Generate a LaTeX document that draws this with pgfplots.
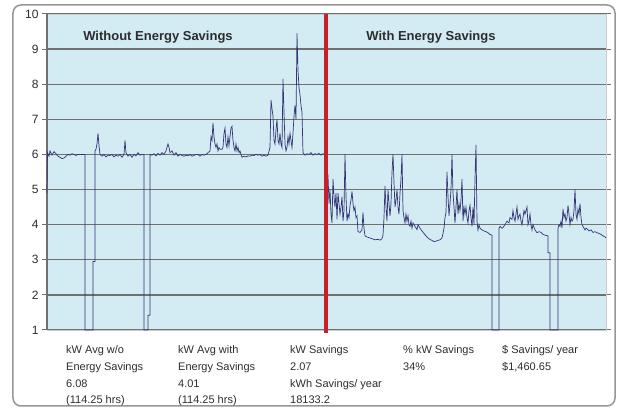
\documentclass[border=0pt]{standalone}
\usepackage{pgfplots}
\pgfplotsset{compat=1.18}
\usepackage{fontspec}
\setmainfont{Liberation Sans}
\definecolor{plotbg}{RGB}{211,235,242}
\definecolor{gridc}{RGB}{112,112,112}
\definecolor{linec}{RGB}{52,52,118}
\definecolor{redc}{RGB}{200,32,40}
\definecolor{txtc}{RGB}{45,45,45}
\definecolor{framec}{RGB}{150,150,150}
\begin{document}
\begin{tikzpicture}
\path[use as bounding box] (-47pt,-79pt) rectangle (572pt,330pt);
\draw[framec, line width=1.5pt, rounded corners=8pt] (-34pt,-76pt) rectangle (568pt,325pt);
\begin{axis}[
  at={(0pt,0pt)}, anchor=south west,
  scale only axis, width=559pt, height=316pt,
  xmin=47, xmax=606, ymin=1, ymax=10,
  xtick=\empty,
  ytick={1,2,...,10},
  ymajorgrids=true,
  grid style={line width=1.3pt, gridc},
  axis background/.style={fill=plotbg},
  axis line style={draw=gray!40},
  tick align=outside,
  major tick length=5pt,
  tick style={gridc, line width=1pt},
  yticklabel style={font=\fontsize{12}{12}\selectfont, text=txtc},
  /pgf/number format/assume math mode=true,
  clip=false,
]
\draw[gridc, line width=1.3pt] (axis cs:47,1) -- (axis cs:47,10);
\addplot[linec, line width=0.7pt] coordinates {
(47,4.9) (47.5,6.05) (49,5.95) (50,6.1) (52,5.98) (54,6.08) (56,6.02) (58,5.95) (60,5.92) (62,5.88) (64,5.9) (66,5.95) (68,6.0) (70,5.98) (72,6.02) (74,6.0) (76,5.97) (78,6.0) (80,6.0) (84,6.0) (85,6.0) (85,1.0) (93,1.0) (93,2.95) (95,2.95) (95,6.1) (96,6.15) (97,6.3) (98,6.6) (99,6.25) (100,6.0) (102,5.95) (104,6.0) (106,5.93) (108,5.98) (110,5.97) (112,6.0) (114,5.93) (116,5.98) (118,5.95) (120,6.0) (122,5.92) (124,6.0) (125,6.4) (126,6.05) (128,5.95) (130,6.0) (132,5.92) (134,6.0) (136,5.96) (138,6.05) (140,5.98) (143,6.0) (144,6.0) (144,1.0) (148,1.0) (148,1.42) (150,1.42) (150,6.0) (152,5.98) (154,6.02) (156,5.96) (158,6.03) (160,5.98) (162,6.05) (164,6.0) (166,6.1) (168,6.3) (169,6.2) (170,6.05) (172,6.1) (174,5.98) (176,6.05) (178,5.95) (180,6.0) (182,5.97) (184,5.95) (186,5.98) (188,5.96) (190,6.0) (192,5.95) (194,5.97) (196,6.0) (198,6.0) (200,5.95) (202,6.0) (204,5.98) (206,6.0) (208,6.05) (210,6.1) (211,6.5) (212,6.4) (213,6.9) (214,6.5) (215,6.3) (216,6.2) (217,6.3) (218,6.1) (219,6.2) (220,6.15) (222,6.15) (223,6.2) (224,6.6) (225,6.75) (226,6.3) (227,6.2) (228,6.5) (229,6.25) (230,6.5) (231,6.75) (232,6.8) (233,6.4) (234,6.2) (235,6.1) (236,6.3) (237,6.1) (238,6.2) (239,6.05) (240,6.1) (241,6.0) (242,5.92) (244,5.95) (246,5.93) (248,5.96) (250,5.95) (252,5.98) (254,5.97) (256,6.0) (258,5.98) (260,6.0) (262,5.95) (264,5.98) (266,5.95) (268,5.98) (270,6.2) (271,7.55) (272,7.3) (273,7.1) (274,6.4) (275,6.3) (276,6.7) (277,7.0) (278,6.4) (279,6.3) (280,6.6) (281,6.3) (282,6.2) (283,8.15) (284,7.2) (285,6.3) (286,6.1) (287,6.2) (288,6.5) (289,6.3) (290,6.6) (291,6.4) (292,6.2) (293,6.6) (294,7.1) (295,7.4) (296,7.0) (297,9.45) (298,8.4) (299,7.9) (300,7.7) (301,7.4) (302,7.2) (303,6.05) (305,5.98) (307,6.02) (309,6.0) (311,6.05) (313,5.98) (315,6.02) (317,6.0) (319,6.03) (321,5.98) (323,6.02) (326,6.0)
(326,5.6) (327,5.55) (328,5.4) (329,4.6) (330,5.0) (331,4.3) (332,4.05) (333,5.3) (334,4.8) (335,4.5) (336,4.9) (337,4.15) (338,4.9) (339,4.6) (340,4.3) (341,4.5) (342,4.8) (343,4.1) (344,4.4) (345,6.0) (346,4.8) (347,4.1) (348,4.3) (349,4.2) (350,4.55) (351,4.7) (352,4.95) (353,4.6) (354,4.4) (355,4.5) (356,4.2) (357,4.25) (358,3.8) (360,3.78) (362,3.85) (363,4.35) (364,3.9) (365,3.68) (367,3.65) (370,3.62) (372,3.6) (375,3.57) (378,3.58) (380,3.56) (382,3.6) (383,3.7) (384,4.2) (385,5.1) (386,4.5) (387,4.1) (388,5.0) (389,4.6) (390,4.25) (391,4.6) (392,5.5) (393,6.0) (394,5.2) (395,4.5) (396,4.7) (397,5.0) (398,4.5) (399,4.3) (400,4.9) (401,5.3) (402,6.0) (403,4.4) (404,4.2) (405,4.05) (406,4.3) (407,4.1) (408,4.25) (409,4.0) (410,3.95) (411,4.1) (412,3.9) (413,4.05) (415,3.95) (417,3.86) (418,4.0) (420,3.9) (422,3.82) (424,3.75) (426,3.68) (428,3.62) (430,3.58) (432,3.55) (434,3.52) (436,3.53) (438,3.55) (440,3.57) (442,3.62) (443,3.75) (444,3.9) (445,4.2) (446,4.35) (447,5.5) (448,4.8) (449,4.25) (450,4.6) (451,5.0) (452,6.0) (453,4.9) (454,4.5) (455,4.05) (456,4.5) (457,5.0) (458,4.3) (459,4.6) (460,4.4) (461,4.7) (462,5.3) (463,4.1) (464,4.5) (465,4.3) (466,4.5) (467,4.2) (468,4.05) (469,4.4) (470,4.55) (471,4.2) (472,3.95) (473,4.5) (474,4.0) (475,5.3) (476,6.27) (477,4.1) (478,3.85) (479,4.0) (480,3.9) (482,3.85) (484,3.82) (486,3.8) (488,3.77) (490,3.72) (492,3.7) (492,1.0) (499,1.0) (499,3.9) (500,3.95) (502,3.9) (503,3.92) (505,4.0) (507,4.1) (509,4.05) (510,4.2) (512,4.15) (513,4.4) (514,4.2) (515,4.1) (516,4.3) (517,4.5) (518,4.15) (519,4.25) (520,4.3) (521,4.1) (522,4.0) (523,4.2) (524,4.4) (525,4.3) (527,4.5) (528,4.0) (529,4.1) (530,4.3) (531,4.0) (532,3.85) (533,4.0) (535,3.85) (537,3.77) (539,3.8) (541,3.78) (543,3.72) (545,3.7) (548,3.68) (548,3.2) (550,3.2) (550,1.0) (558,1.0) (558,3.9) (559,4.0) (560,3.95) (561,4.1) (562,3.9) (563,4.45) (564,4.2) (565,4.3) (566,4.1) (567,4.2) (568,4.55) (569,4.3) (570,4.0) (571,4.2) (572,4.1) (573,4.15) (574,4.4) (575,5.0) (576,4.3) (577,4.15) (578,4.45) (579,4.3) (580,4.6) (581,4.2) (582,4.0) (583,3.95) (585,3.85) (586,3.9) (587,3.88) (589,3.82) (591,3.85) (593,3.78) (595,3.8) (597,3.77) (599,3.75) (601,3.72) (603,3.68) (605,3.65) (606,3.62)
};
% divider between the two periods
\addplot[redc, line width=4.5pt] coordinates {(326,0.92) (326,10)};
\node[font=\fontsize{13}{13}\selectfont\bfseries, text=txtc] at (axis cs:158,9.34) {Without Energy Savings};
\node[font=\fontsize{13}{13}\selectfont\bfseries, text=txtc] at (axis cs:431,9.34) {With Energy Savings};
\end{axis}
\begin{scope}[font=\fontsize{11}{11}\selectfont, text=txtc, every node/.style={anchor=base west, inner sep=0pt}]
\node at (19pt,-24pt) {kW Avg w/o};
\node at (19pt,-41pt) {Energy Savings};
\node at (19pt,-58pt) {6.08};
\node at (19pt,-74pt) {(114.25 hrs)};
\node at (131pt,-24pt) {kW Avg with};
\node at (131pt,-41pt) {Energy Savings};
\node at (131pt,-58pt) {4.01};
\node at (131pt,-74pt) {(114.25 hrs)};
\node at (243pt,-24pt) {kW Savings};
\node at (243pt,-41pt) {2.07};
\node at (243pt,-58pt) {kWh Savings/ year};
\node at (243pt,-74pt) {18133.2};
\node at (356pt,-24pt) {\% kW Savings};
\node at (356pt,-41pt) {34\%};
\node at (455pt,-24pt) {\$ Savings/ year};
\node at (455pt,-41pt) {\$1,460.65};
\end{scope}
\end{tikzpicture}
\end{document}
